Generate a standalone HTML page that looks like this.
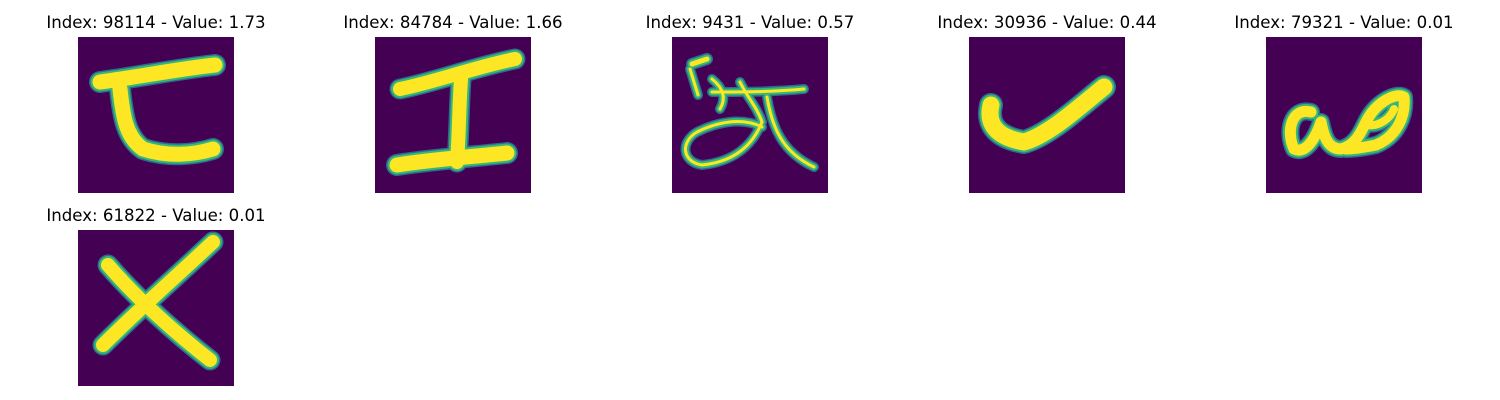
<!DOCTYPE html>
<html><head><meta charset="utf-8"><style>
body{margin:0;background:#fff;width:1500px;height:400px;overflow:hidden;font-family:"DejaVu Sans","Liberation Sans",sans-serif}
.t{position:absolute;font-size:16.6px;color:#000;text-align:center;width:300px;white-space:nowrap}
svg.img{position:absolute;width:156px;height:156px}
</style></head><body>
<div id="root"></div>
<script>
const indices=[98114,84784,9431,30936,79321,61822];
const values=[1.73,1.66,0.57,0.44,0.01,0.01];
const strokes=[
 [["M22,45 C60,40 100,32 137,28",17],["M42,52 C45,80 48,100 65,112 C90,120 115,118 135,112",17]],
 [["M25,52 C60,45 100,30 140,22",16],["M86,42 C84,70 84,100 82,125",16],["M22,128 C60,122 95,120 132,116",17]],
 [["M20,27 L35,22",7],["M18,32 L26,58",5],["M40,42 C50,50 55,60 48,72",5],["M40,55 C70,55 100,55 132,52",5],["M68,45 C75,60 85,70 90,85 C80,110 60,125 30,128 C10,125 8,105 25,95 C45,85 70,80 90,90",5],["M95,60 C100,90 110,115 142,130",5]],
 [["M22,68 C18,85 25,100 55,105 C80,98 110,70 135,50",19]],
 [["M45,75 C25,70 20,95 28,112 C40,118 50,100 55,85 C58,100 62,112 75,112 C90,108 95,95 100,85 C110,65 130,55 138,60 C140,80 130,100 110,108 C100,110 90,112 80,112",13],["M100,88 C115,90 125,80 128,72",10]],
 [["M30,35 C60,70 100,105 132,130",16],["M135,12 C100,45 60,80 25,115",16]]
];
const root=document.getElementById('root');
const xs=[78,375,672,969,1266];
indices.forEach((idx,i)=>{
 const col=i%5,row=Math.floor(i/5);
 const x=xs[col],y=37+row*193;
 const t=document.createElement('div');
 t.className='t';
 
 
 t.style.left=(x+78-150)+'px';t.style.top=(y-24)+'px';
 t.textContent='Index: '+idx+' - Value: '+values[i].toFixed(2);
 root.appendChild(t);
 const s=document.createElementNS('http://www.w3.org/2000/svg','svg');
 s.setAttribute('class','img');
 
 
 s.setAttribute('viewBox','0 0 156 156');
 s.style.left=x+'px';s.style.top=y+'px';
 let h='<rect width="156" height="156" fill="#440154"/>';
 strokes[i].forEach(([d,w])=>{h+=`<path d="${d}" fill="none" stroke="#31688e" stroke-width="${w+5}" stroke-linecap="round" stroke-linejoin="round"/>`;});
 strokes[i].forEach(([d,w])=>{h+=`<path d="${d}" fill="none" stroke="#35b779" stroke-width="${w+2}" stroke-linecap="round" stroke-linejoin="round"/>`;});
 strokes[i].forEach(([d,w])=>{h+=`<path d="${d}" fill="none" stroke="#fde725" stroke-width="${Math.max(w-2,3)}" stroke-linecap="round" stroke-linejoin="round"/>`;});
 s.innerHTML=h;
 root.appendChild(s);
});
</script>
</body></html>
